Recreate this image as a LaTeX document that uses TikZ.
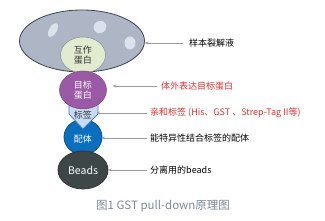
\documentclass[tikz,border=0pt]{standalone}
\usepackage{fontspec}
\setmainfont{Noto Sans CJK SC}
\usetikzlibrary{shapes.geometric,arrows.meta}
\definecolor{cellgray}{HTML}{AEB6C6}
\definecolor{celledge}{HTML}{3C4250}
\definecolor{spot}{HTML}{DCE2EC}
\definecolor{greenp}{HTML}{E1EBCF}
\definecolor{purplep}{HTML}{9A5AA6}
\definecolor{tagfill}{HTML}{C9DBF2}
\definecolor{tagedge}{HTML}{4A7EC0}
\definecolor{ligand}{HTML}{0A6FBF}
\definecolor{ligandedge}{HTML}{0B4F8A}
\definecolor{beads}{HTML}{3E4747}
\definecolor{redtxt}{HTML}{E2302F}
\definecolor{captxt}{HTML}{7C8898}
\definecolor{arrowc}{HTML}{9A9A9A}
\tikzset{
  blob/.style={ellipse, inner sep=0pt, line width=0.8pt},
  lab/.style={anchor=west, font=\fontsize{9}{10}\selectfont, inner sep=1pt},
  ptr/.style={draw=arrowc, line width=0.6pt, -{Stealth[length=3.5pt,width=3pt]}},
}
\begin{document}
\begin{tikzpicture}[x=1pt,y=-1pt]
\useasboundingbox (0,0) rectangle (325,221);
% lysate
\node[blob, draw=celledge, fill=cellgray, minimum width=125pt, minimum height=62pt] (lys) at (82,41) {};
\fill[spot, rotate around={-30:(53,30)}] (53,30) ellipse [x radius=3.8, y radius=7.5];
\fill[spot, rotate around={30:(100,27)}] (100,27) ellipse [x radius=6.5, y radius=6];
\fill[spot] (130,43) ellipse [x radius=5.5, y radius=6.5];
% interacting protein
\node[blob, draw=celledge!60, line width=0.5pt, fill=greenp, minimum width=45pt, minimum height=36pt,
  font=\fontsize{9}{10.5}\selectfont, align=center, text=black!80] (ip) at (83,55) {互作\\蛋白};
% ligand
\node[blob, draw=ligandedge, fill=ligand, minimum width=38pt, minimum height=35pt] (lg) at (83,137) {};
\node[font=\fontsize{9}{10}\selectfont, text=white] (lgt) at (83,139) {配体};
% tag
\filldraw[fill=tagfill, draw=tagedge, line width=0.8pt] (69,100) -- (69,114) -- (83,129) -- (98,114) -- (98,100) -- cycle;
\node[font=\fontsize{9}{10}\selectfont, text=black!80] (tag) at (83,115) {标签};
% target protein
\node[blob, draw=purplep!80!black, line width=0.5pt, fill=purplep, minimum width=47pt, minimum height=38pt,
  font=\fontsize{9}{10.5}\selectfont, align=center, text=white] (tp) at (83,90) {目标\\蛋白};
% beads
\node[blob, draw=black!80, fill=beads, minimum width=50pt, minimum height=38pt,
  font=\fontsize{10.5}{11}\selectfont, text=white] (bd) at (83,170) {Beads};
% labels
\node[lab] (l1) at (188,43) {样本裂解液};
\node[lab, text=redtxt] (l2) at (160,86) {体外表达目标蛋白};
\node[lab, text=redtxt] (l3) at (149,113) {亲和标签 (His、GST 、Strep-Tag II等)};
\node[lab] (l4) at (149,138) {能特异性结合标签的配体};
\node[lab] (l5) at (149,170) {分离用的beads};
% pointers
\draw[ptr, shorten <=5pt] (l1.west) -- (l1.west -| lys.east);
\draw[ptr, shorten <=3pt, shorten >=6pt] (l2.west) -- (l2.west -| tp.east);
\draw[ptr, shorten <=2pt, shorten >=1pt] (l3.west) -- (l3.west -| tag.east);
\draw[ptr, shorten <=2pt, shorten >=-1pt] (l4.west) -- (l4.west -| lg.east);
\draw[ptr, shorten <=2pt] (l5.west) -- (l5.west -| bd.east);
% caption
\node[font=\fontsize{11.5}{13}\selectfont, text=captxt] (cap) at (163,206) {图1 GST pull-down原理图};
\end{tikzpicture}
\end{document}
